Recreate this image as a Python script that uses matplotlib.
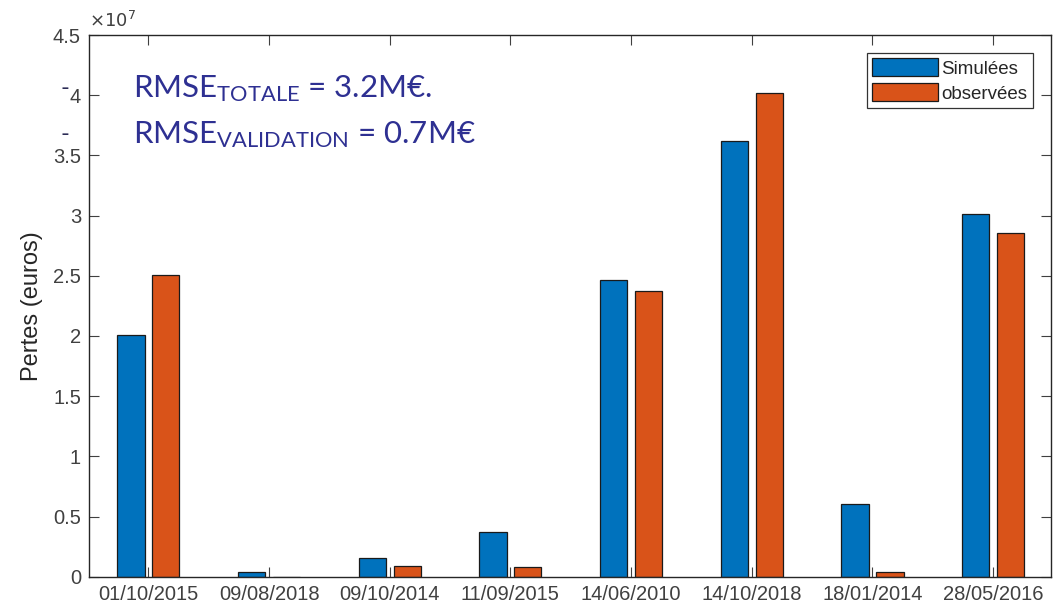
import matplotlib
matplotlib.use('Agg')
import matplotlib.pyplot as plt
from matplotlib.ticker import FuncFormatter
import numpy as np

# data (euros)
dates = ['01/10/2015', '09/08/2018', '09/10/2014', '11/09/2015',
         '14/06/2010', '14/10/2018', '18/01/2014', '28/05/2016']
simulees = [2.01e7, 0.042e7, 0.158e7, 0.369e7, 2.464e7, 3.62e7, 0.604e7, 3.01e7]
observees = [2.51e7, 0.0, 0.091e7, 0.08e7, 2.373e7, 4.015e7, 0.039e7, 2.857e7]
series_names = ['Simulées', 'observées']
rmse_lines = [r'RMSE$_{\mathrm{TOTALE}}$ = 3.2M€.', r'RMSE$_{\mathrm{VALIDATION}}$ = 0.7M€']

plt.rcParams['font.family'] = ['Liberation Sans', 'DejaVu Sans']
plt.rcParams['mathtext.fontset'] = 'custom'
plt.rcParams['mathtext.rm'] = 'Lato'
plt.rcParams['mathtext.it'] = 'Lato:italic'
plt.rcParams['mathtext.bf'] = 'Lato:bold'

gray = '#404040'
blue = '#0072BD'
orange = '#D95319'
txt_col = '#2E3092'

fig = plt.figure(figsize=(10.58, 6.11), dpi=100)
ax = fig.add_axes([0.0844, 0.0561, 0.9090, 0.8866])

x = np.arange(len(dates))
w = 0.225
off = 0.145
ax.bar(x - off, simulees, w, color=blue, edgecolor='#1a1a1a', linewidth=0.9, label=series_names[0])
ax.bar(x + off, observees, w, color=orange, edgecolor='#1a1a1a', linewidth=0.9, label=series_names[1])

ax.set_xlim(-0.49, 7.48)
ax.set_ylim(0, 4.5e7)
ax.set_xticks(x)
ax.set_xticklabels(dates)
ax.set_yticks(np.arange(0, 4.51e7, 0.5e7))
ax.yaxis.set_major_formatter(FuncFormatter(lambda v, p: f'{v / 1e7:g}'))
ax.tick_params(direction='in', top=True, right=True, length=7, width=0.8,
               labelsize=14.5, colors=gray, pad=6)
for s in ax.spines.values():
    s.set_color('#262626')
    s.set_linewidth(1.0)

ax.set_ylabel('Pertes (euros)', fontsize=17, color='#262626', labelpad=7)

ax.text(0.0, 1.008, r'$\times10^{7}$', transform=ax.transAxes, fontsize=13,
        color=gray, ha='left', va='bottom', family='DejaVu Sans',
        math_fontfamily='dejavusans')

leg = ax.legend(loc='upper right', fontsize=13.5, frameon=True, fancybox=False,
                framealpha=1, edgecolor='#333333', handlelength=3.5, handleheight=1.1,
                handletextpad=0.2, borderpad=0.3, labelspacing=0.3, borderaxespad=0.95)
leg.get_frame().set_linewidth(0.9)
for t in leg.get_texts():
    t.set_color('#262626')

# annotation
for i, line in enumerate(rmse_lines):
    fig.text(133 / 1058, 1 - (97 + 46 * i) / 611, line, fontsize=22.5,
             color=txt_col, family='Lato', ha='left', va='baseline')
    fig.text(61 / 1058, 1 - (95 + 46 * i) / 611, '-', fontsize=17,
             color='#2b2b55', family='Lato', ha='left', va='baseline')

fig.savefig('out.png', dpi=100)
